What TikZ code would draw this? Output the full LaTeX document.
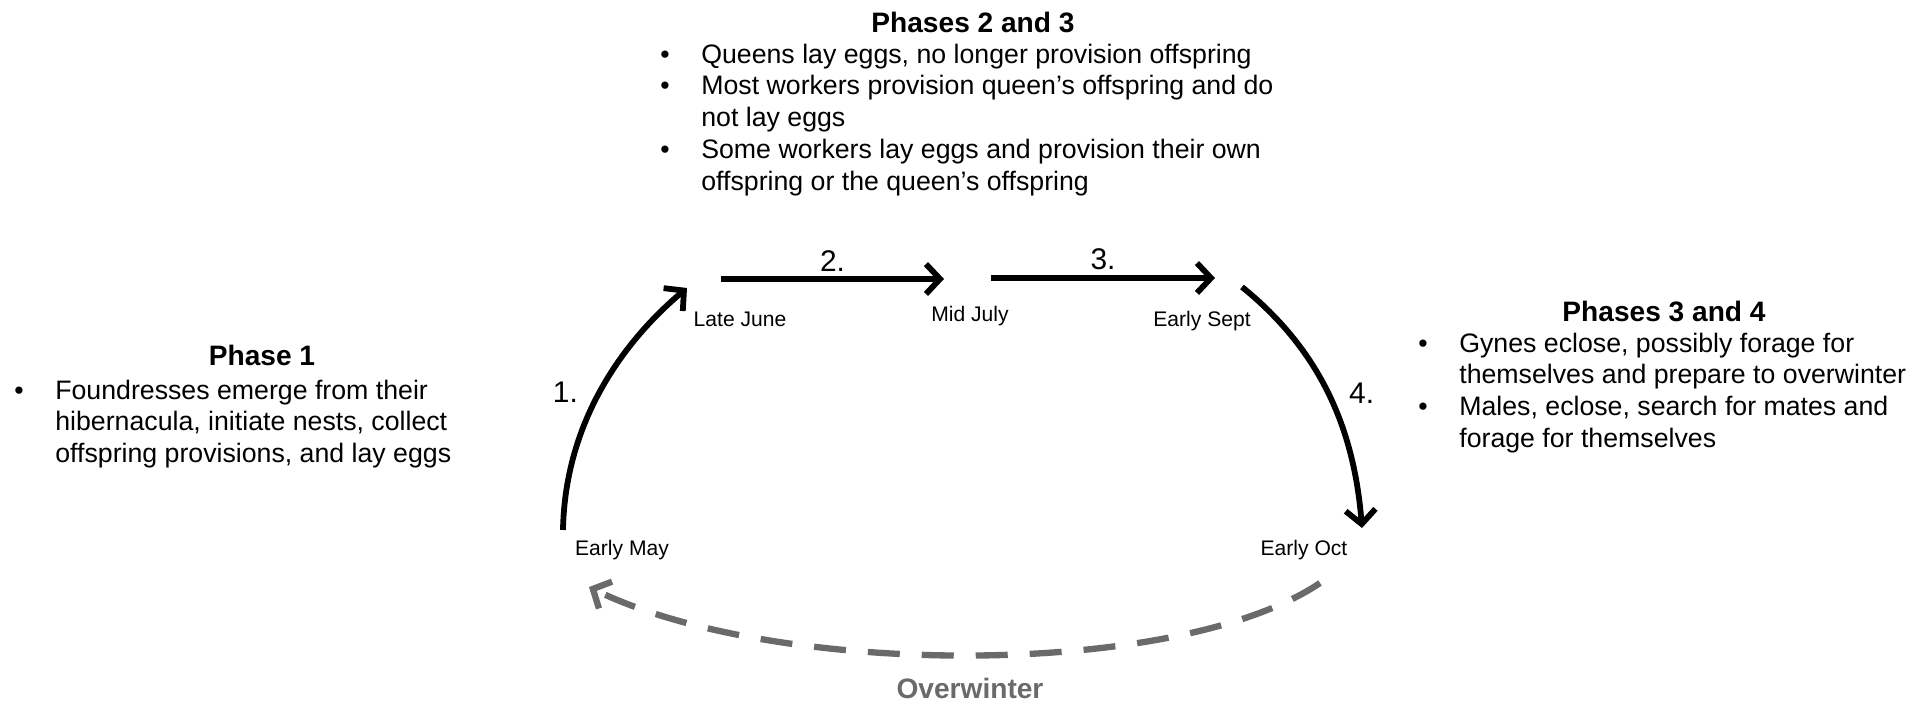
\documentclass[tikz,border=0pt]{standalone}
\usepackage{fontspec}
\setmainfont{Liberation Sans}
\usetikzlibrary{positioning,arrows.meta}

\definecolor{wintergray}{HTML}{6A6A6A}

\newcommand{\phaseitem}[1]{\par\hangindent=0.82cm\hangafter=1\noindent\makebox[0.82cm][l]{\textbullet}#1}

\begin{document}
\begin{tikzpicture}[
x=0.02cm, y=-0.02cm,
month/.style={
  font=\fontsize{12}{14}\selectfont,
  anchor=base,
  inner sep=0},
stepno/.style={
  font=\fontsize{17}{20}\selectfont,
  inner sep=0},
phasehead/.style={
  font=\fontsize{16}{19}\selectfont\bfseries,
  anchor=base,
  inner sep=0},
phasetext/.style={
  font=\fontsize{15.2}{18.2}\selectfont,
  anchor=base west,
  inner sep=0},
cyclearrow/.style={
  line width=3.3pt,
  -{Straight Barb[length=8pt,width=17pt]}},
winterarrow/.style={
  line width=3.6pt,
  wintergray,
  dash pattern=on 0.64cm off 0.44cm,
  -{Straight Barb[length=8pt,width=17pt]}}
]
\useasboundingbox (0,0) rectangle (1927,703);

% ends of the arrows
\coordinate (may1) at (563,530);
\coordinate (jun1) at (687,288);
\coordinate (jun2) at (721,279);
\coordinate (jul1) at (944,279);
\coordinate (jul2) at (991,278);
\coordinate (sep1) at (1215,278);
\coordinate (sep2) at (1242,287);
\coordinate (oct1) at (1362,528);
\coordinate (oct2) at (1320,583);
\coordinate (may2) at (589,587);

\foreach \mx/\my/\name/\txt in {622/555/lblmay/Early May, 740/326/lbljun/Late June,
  970/321/lbljul/Mid July, 1202/326/lblsep/Early Sept, 1304/555/lbloct/Early Oct}
  \node[month] (\name) at (\mx,\my) {\txt};

\draw[cyclearrow] (may1) .. controls +(2,-110) and +(-62,52) .. (jun1)
  node[stepno, pos=.48, left=0.38cm] (step1) {1.};
\draw[cyclearrow] (jun2) -- node[stepno, above=0.1cm] (step2) {2.} (jul1);
\draw[cyclearrow] (jul2) -- node[stepno, above=0.1cm] (step3) {3.} (sep1);
\draw[cyclearrow] (sep2) .. controls +(78,63) and +(-8,-100) .. (oct1)
  node[stepno, pos=.5, right=0.36cm] (step4) {4.};
\draw[winterarrow] (oct2) .. controls +(-142,96) and +(186,91) .. (may2);
\node[phasehead, wintergray] (overwinter) at (970,698) {Overwinter};

% the three phase boxes
\node[phasehead] (head1) at (262,365) {Phase 1};
\node[phasetext] (text1) at (14,399) {\parbox[t]{12cm}{%
  \phaseitem{Foundresses emerge from their\newline hibernacula, initiate nests, collect\newline offspring provisions, and lay eggs}}};

\node[phasehead] (head23) at (973,32) {Phases 2 and 3};
\node[phasetext] (text23) at (660,63) {\parbox[t]{14cm}{%
  \phaseitem{Queens lay eggs, no longer provision offspring}
  \phaseitem{Most workers provision queen’s offspring and do\newline not lay eggs}
  \phaseitem{Some workers lay eggs and provision their own\newline offspring or the queen’s offspring}}};

\node[phasehead] (head34) at (1664,321) {Phases 3 and 4};
\node[phasetext] (text34) at (1418,352) {\parbox[t]{10cm}{%
  \phaseitem{Gynes eclose, possibly forage for\newline themselves and prepare to overwinter}
  \phaseitem{Males, eclose, search for mates and\newline forage for themselves}}};
\end{tikzpicture}
\end{document}
